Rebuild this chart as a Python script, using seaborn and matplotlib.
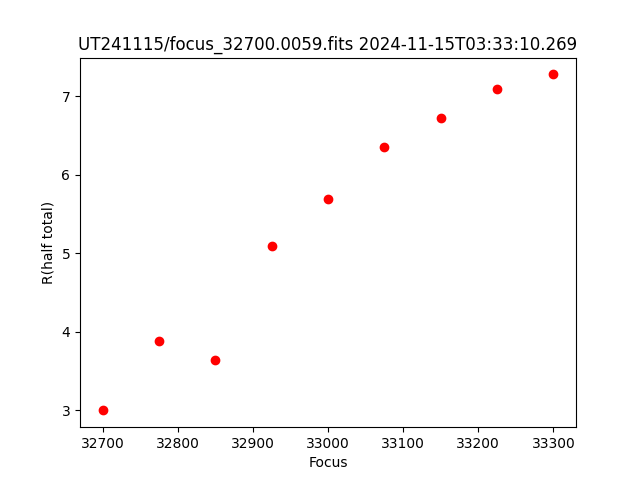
import matplotlib
matplotlib.use("Agg")
import matplotlib.pyplot as plt
import seaborn as sns

# Focus positions and half-total radius
focus = [32700, 32775, 32850, 32925, 33000, 33075, 33150, 33225, 33300]
r_half = [3.00, 3.88, 3.64, 5.10, 5.69, 6.35, 6.73, 7.09, 7.28]

TITLE = "UT241115/focus_32700.0059.fits 2024-11-15T03:33:10.269"

fig, ax = plt.subplots(figsize=(6.4, 4.8), dpi=100)
sns.scatterplot(x=focus, y=r_half, ax=ax, color="red", s=36,
                edgecolor="red", linewidth=1.0)

ax.set_xlabel("Focus")
ax.set_ylabel("R(half total)")
ax.set_title(TITLE)

fig.savefig("out.png", dpi=100)
plt.close(fig)
